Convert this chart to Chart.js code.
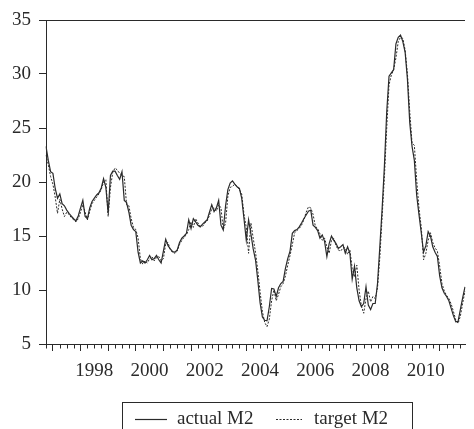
<!DOCTYPE html>
<html>
<head>
<meta charset="utf-8">
<script src="https://cdn.jsdelivr.net/npm/chart.js@4.4.1/dist/chart.umd.min.js"></script>
<style>
  body { margin: 0; background: #fff; }
  #wrap { width: 474px; height: 429px; }
</style>
</head>
<body>
<div id="wrap"><canvas id="m2Chart"></canvas></div>
<script>
// monthly series, Oct 1996 .. Oct 2011
const startYear = 1996;
const startMonth = 10;

const actualM2 = [
    23.3, 22.0, 20.95, 20.8, 19.4, 18.5, 18.9, 18.0, 17.8, 17.4, 17.1, 16.85,
    16.6, 16.4, 16.85, 17.6, 18.3, 16.8, 16.6, 17.6, 18.2, 18.5, 18.8, 19.0,
    19.45, 20.3, 19.5, 17.1, 20.6, 21.0, 21.0, 20.6, 20.25, 20.95, 18.3, 18.1,
    17.2, 16.0, 15.6, 15.4, 13.5, 12.5, 12.7, 12.5, 12.8, 13.2, 12.8, 12.9,
    13.2, 12.8, 12.5, 13.6, 14.7, 14.1, 13.8, 13.55, 13.5, 13.7, 14.4, 14.8,
    15.0, 15.25, 16.5, 15.7, 16.6, 16.3, 16.0, 15.85, 16.1, 16.3, 16.5, 17.2,
    17.9, 17.25, 17.6, 18.3, 16.0, 15.55, 17.8, 19.3, 19.9, 20.1, 19.8, 19.55,
    19.4, 18.5, 16.6, 14.6, 16.5, 15.2, 13.8, 12.8, 10.9, 8.8, 7.5, 7.2,
    7.15, 8.45, 10.15, 10.1, 9.4, 10.2, 10.6, 10.8, 12.0, 12.9, 13.6, 15.25,
    15.5, 15.6, 15.85, 16.2, 16.6, 16.95, 17.3, 17.4, 16.0, 15.8, 15.5, 14.8,
    15.1, 14.5, 13.1, 14.3, 15.0, 14.6, 14.3, 13.85, 14.0, 14.2, 13.4, 14.0,
    13.4, 11.0, 12.2, 10.2, 9.0, 8.45, 8.75, 10.3, 8.6, 8.2, 8.75, 8.75,
    10.6, 14.0, 17.5, 21.5, 26.5, 29.8, 30.1, 30.4, 32.8, 33.4, 33.6, 33.0,
    32.0, 29.5, 25.5, 23.3, 22.0, 18.8, 17.0, 15.3, 13.5, 14.1, 15.4, 15.0,
    14.0, 13.5, 13.1, 11.3, 10.2, 9.7, 9.4, 9.0, 8.3, 7.6, 7.05, 7.1,
    8.2, 9.3, 10.3
];

const targetM2 = [
    22.5, 21.6, 20.5, 19.8, 18.6, 17.1, 18.4, 17.5, 16.8, 17.2, 17.0, 16.7,
    16.5, 16.3, 16.6, 17.2, 17.9, 17.2, 16.5, 17.3, 18.0, 18.3, 18.6, 18.9,
    19.3, 20.0, 20.2, 16.8, 19.5, 20.9, 21.3, 21.1, 20.8, 20.6, 20.5, 17.9,
    17.8, 16.6, 15.8, 15.6, 14.8, 12.9, 12.4, 12.7, 12.5, 12.9, 13.1, 12.7,
    13.0, 13.1, 12.7, 12.9, 14.3, 14.4, 13.7, 13.5, 13.4, 13.6, 14.2, 14.6,
    14.9, 15.1, 15.6, 16.3, 15.8, 16.6, 16.2, 15.9, 15.9, 16.2, 16.4, 16.9,
    17.5, 17.6, 17.3, 17.9, 17.6, 15.6, 16.2, 18.7, 19.5, 19.6, 19.8, 19.6,
    19.3, 18.9, 17.0, 15.8, 13.4, 16.2, 14.8, 13.5, 11.8, 9.8, 8.0, 7.0,
    6.6, 7.3, 9.0, 10.0, 9.0, 9.6, 10.3, 10.6, 11.3, 12.3, 13.2, 14.2,
    15.3, 15.5, 15.7, 16.0, 16.5, 17.2, 17.7, 17.6, 17.0, 15.9, 15.7, 15.2,
    14.6, 14.8, 14.0, 13.4, 14.6, 14.8, 14.1, 13.7, 13.6, 13.9, 13.9, 13.3,
    13.7, 12.0, 11.2, 12.3, 10.0, 8.5, 7.85, 9.2, 9.9, 8.9, 9.4, 9.2,
    10.2, 13.0, 16.8, 20.5, 25.0, 29.0, 29.9, 30.4, 31.5, 33.0, 33.4, 33.3,
    32.2, 30.0, 26.5, 23.6, 23.4, 20.2, 17.6, 15.8, 12.8, 13.4, 14.6, 15.3,
    14.4, 13.9, 13.6, 12.2, 10.6, 9.9, 9.5, 9.2, 8.7, 8.0, 7.2, 6.9,
    7.6, 8.8, 9.9
];

const yearLabels = ["1998", "2000", "2002", "2004", "2006", "2008", "2010"];

const months = [];
for (let i = 0; i < actualM2.length; i++) {
    const n = startMonth - 1 + i;
    months.push((startYear + Math.floor(n / 12)) + "-" + String(n % 12 + 1).padStart(2, "0"));
}

const ink = "#2a2a2a";
const serif = { family: "'Liberation Serif', 'Times New Roman', serif", size: 19 };

// top border, quarter ticks and the boxed legend
const frame = {
    id: "frame",
    afterDraw(chart) {
        const { ctx, chartArea: a } = chart;
        const x = chart.scales.x;
        ctx.save();
        ctx.strokeStyle = ink;
        ctx.lineWidth = 1;
        ctx.beginPath();
        ctx.moveTo(a.left, a.top + 0.5);
        ctx.lineTo(a.right, a.top + 0.5);
        months.forEach((m, i) => {
            const mm = m.slice(5);
            if (mm === "04" || mm === "07" || mm === "10") {
                const px = Math.round(x.getPixelForValue(i)) + 0.5;
                ctx.moveTo(px, a.bottom);
                ctx.lineTo(px, a.bottom + 4.5);
            }
        });
        ctx.stroke();

        // legend
        ctx.strokeRect(122.5, 402.5, 290, 40);
        ctx.font = "19px " + serif.family;
        ctx.fillStyle = ink;
        ctx.textBaseline = "middle";
        const ly = 419.5;
        const items = [
            { x0: 135, x1: 167, tx: 177, ds: chart.data.datasets[0] },
            { x0: 276, x1: 302, tx: 314, ds: chart.data.datasets[1] },
        ];
        items.forEach(it => {
            ctx.beginPath();
            ctx.setLineDash(it.ds.borderDash || []);
            ctx.lineWidth = it.ds.borderWidth;
            ctx.moveTo(it.x0, ly);
            ctx.lineTo(it.x1, ly);
            ctx.stroke();
            ctx.setLineDash([]);
            ctx.fillText(it.ds.label, it.tx, ly);
        });
        ctx.restore();
    },
};

new Chart(document.getElementById("m2Chart"), {
    type: "line",
    data: {
        labels: months,
        datasets: [
            {
                label: "actual M2",
                data: actualM2,
                borderColor: ink,
                borderWidth: 1.2,
                pointRadius: 0,
                tension: 0,
            },
            {
                label: "target M2",
                data: targetM2,
                borderColor: ink,
                borderWidth: 1,
                borderDash: [2, 1.5],
                pointRadius: 0,
                tension: 0,
            },
        ],
    },
    options: {
        responsive: true,
        maintainAspectRatio: false,
        animation: false,
        layout: { padding: { top: 20, right: 0, bottom: 0, left: 0 } },
        plugins: {
            legend: { display: false },
            tooltip: { enabled: false },
        },
        scales: {
            x: {
                afterFit: s => { s.height = 85; },
                grid: {
                    drawOnChartArea: false,
                    tickLength: 7,
                    tickColor: c => (months[c.index] || "").endsWith("-01") ? ink : "rgba(0,0,0,0)",
                },
                border: { color: ink, width: 1 },
                ticks: {
                    autoSkip: false,
                    maxRotation: 0,
                    padding: 9,
                    color: ink,
                    font: serif,
                    callback: (v, i) => {
                        const m = months[i];
                        const yr = m.slice(0, 4);
                        return m.endsWith("-07") && yearLabels.includes(yr) ? yr : "";
                    },
                },
            },
            y: {
                min: 5,
                max: 35,
                afterFit: s => { s.width = 46; },
                grid: { drawOnChartArea: false, tickLength: 7, tickColor: ink },
                border: { color: ink, width: 1 },
                ticks: { stepSize: 5, padding: 8, color: ink, font: serif },
            },
        },
    },
    plugins: [frame],
});
</script>
</body>
</html>
